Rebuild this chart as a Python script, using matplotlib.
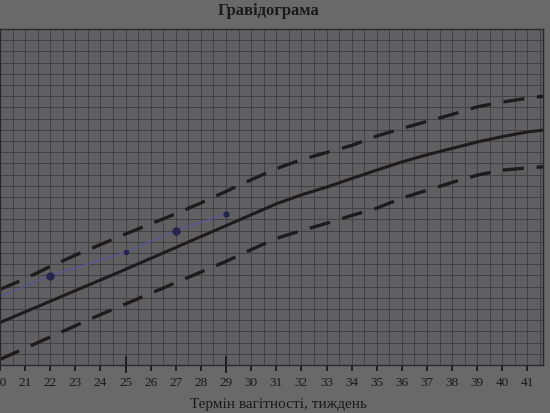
import matplotlib
matplotlib.use("Agg")
import matplotlib.pyplot as plt
from matplotlib.ticker import MultipleLocator, FixedLocator, NullFormatter
import matplotlib.transforms as mtransforms

# Data (x = gestational week, y = height in grid cells)
weeks = [20, 21, 22, 23, 24, 25, 26, 27, 28, 29, 30, 31, 32, 33, 34, 35, 36, 37, 38, 39, 40, 41, 42]
median = [3.79, 4.74, 5.69, 6.64, 7.59, 8.54, 9.52, 10.49, 11.47, 12.44, 13.41, 14.39,
          15.19, 15.88, 16.65, 17.4, 18.13, 18.77, 19.34, 19.91, 20.39, 20.81, 21.07]
upper = [6.75, 7.7, 8.8, 9.8, 10.75, 11.7, 12.6, 13.5, 14.47, 15.5, 16.54, 17.53,
         18.33, 18.97, 19.6, 20.44, 21.12, 21.75, 22.37, 23.05, 23.47, 23.82, 24.1]
lower = [0.5, 1.5, 2.5, 3.5, 4.5, 5.45, 6.4, 7.35, 8.3, 9.25, 10.3, 11.3,
         12.0, 12.65, 13.35, 14.0, 14.9, 15.6, 16.3, 16.95, 17.4, 17.6, 17.75]
patient_weeks = [20, 22, 25, 27, 29]
patient_vals = [6.1, 7.97, 10.06, 12.0, 13.5]
patient_marker_sizes = [0, 5, 3, 5, 3.5]
marked_weeks = [25, 29]
tick_weeks = list(range(20, 42))
right_ticks = list(range(1, 11))

fig = plt.figure(figsize=(5.5, 4.13), dpi=100)
fig.patch.set_facecolor('#69696a')
ax = fig.add_axes([0.0, (413 - 365) / 413, 543 / 550, (365 - 29) / 413])
ax.set_facecolor('#606062')

ax.set_xlim(20.02, 41.62)
ax.set_ylim(0, 30)

ax.set_xticks(tick_weeks)
ax.xaxis.set_minor_locator(MultipleLocator(0.5))
ax.yaxis.set_major_locator(MultipleLocator(1))
ax.yaxis.set_minor_locator(FixedLocator(right_ticks))
ax.yaxis.set_major_formatter(NullFormatter())
ax.grid(True, which='both', axis='x', color='#404042', linewidth=0.65)
ax.grid(True, which='major', axis='y', color='#404042', linewidth=0.65)
ax.set_axisbelow(True)

ax.set_xticklabels([str(w) for w in tick_weeks], family='Liberation Serif',
                   fontsize=9.5, color='#1a1a1a')
ax.tick_params(axis='x', which='major', direction='out', length=4, width=1.3,
               color='#1a1a1a', pad=5)
ax.tick_params(axis='x', which='minor', length=0)
ax.tick_params(axis='y', which='major', left=False, right=False, labelleft=False)
ax.tick_params(axis='y', which='minor', left=False, right=True, direction='out',
               length=3, width=1.0, color='#1a1a1a')

for s in ax.spines.values():
    s.set_color('#2a2a2a')
    s.set_linewidth(1.0)

ax.plot(weeks, median, color='#1e1b1b', linewidth=2.2, solid_capstyle='round')
ax.plot(weeks, upper, color='#1e1b1b', linewidth=2.4, dashes=(6.3, 3.8))
ax.plot(weeks, lower, color='#1e1b1b', linewidth=2.4, dashes=(6.3, 3.8))

ax.plot(patient_weeks, patient_vals, color='#55559a', linewidth=0.9)
for w, v, ms in zip(patient_weeks, patient_vals, patient_marker_sizes):
    if ms > 0:
        ax.plot([w], [v], 'o', color='#25254d', markersize=ms)

trans = mtransforms.blended_transform_factory(ax.transData, ax.transAxes)
for w in marked_weeks:
    ax.plot([w, w], [-0.02, 0.025], transform=trans, color='#1a1a1a',
            linewidth=1.3, clip_on=False)

ax.set_xlabel('Термін вагітності, тиждень', family='Liberation Serif',
              fontsize=11, color='#1a1a1a', labelpad=3)
ax.xaxis.set_label_coords(279 / 543, -(398 - 365) / 336)

fig.text(269 / 550, 1 - 11 / 413, 'Гравідограма', family='Liberation Serif',
         fontweight='bold', fontsize=12, color='#1a1a1a', ha='center', va='center')

fig.savefig('out.png', dpi=100, facecolor=fig.get_facecolor())
